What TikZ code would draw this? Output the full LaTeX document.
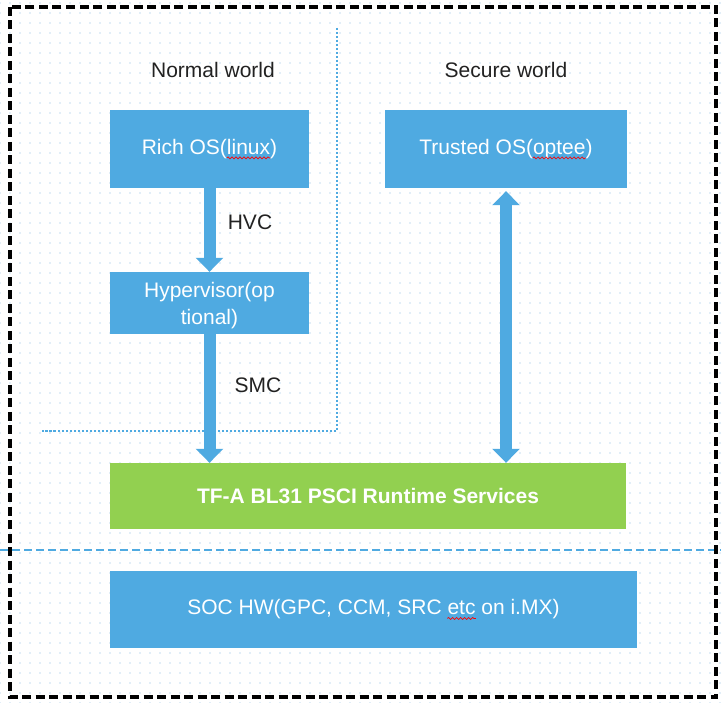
\documentclass[tikz,border=0pt]{standalone}
\usepackage{fontspec}
\setmainfont{Liberation Sans}
\usetikzlibrary{arrows.meta,positioning,patterns.meta,decorations.pathmorphing}

\definecolor{boxblue}{RGB}{79,170,225}
\definecolor{boxgreen}{RGB}{146,208,80}
\definecolor{dotblue}{RGB}{196,222,242}
\definecolor{labelgray}{RGB}{34,34,34}

\newcommand\spellerr[1]{\tikz[baseline=(w.base)]{\node[inner sep=0pt, minimum width=0pt, minimum height=0pt,
                fill=none, draw=none, text=white] (w) {#1};
        \draw[overlay, red, line width=0.7pt, decorate, decoration={snake, amplitude=1pt, segment length=4pt}]
                ([yshift=-3.5pt]w.base west) -- ([yshift=-3.5pt]w.base east);}}

\begin{document}
\begin{tikzpicture}[x=1pt, y=-1pt,
        every node/.style={font=\fontsize{21}{27}\selectfont},
        layer/.style={fill=boxblue, text=white, inner sep=0pt, align=center},
        world/.style={text=labelgray, inner sep=1pt},
        call/.style={draw=boxblue, line width=12pt, -{Triangle[width=27pt, length=14pt]}},
        twoway/.style={draw=boxblue, line width=12pt,
                {Triangle[width=27pt, length=14pt]}-{Triangle[width=27pt, length=14pt]}}]
        \useasboundingbox (0, 0) rectangle (721, 703);
        \fill[white] (0, 0) rectangle (721, 703);
        \fill[pattern={Dots[distance=10pt, radius=0.9pt]}, pattern color=dotblue] (0, 0) rectangle (721, 703);
        \draw[boxblue, line width=1.2pt, dash pattern=on 2.5pt off 1.5pt] (337, 28) -- (337, 431) -- (42, 431);
        \draw[boxblue, line width=2.4pt, dash pattern=on 8pt off 4pt] (0, 550) -- (721, 550);
        \draw[line width=3.2pt, dash pattern=on 9pt off 4.5pt] (10, 7) rectangle (716, 697);

        \node[world] (normal) at (213, 70) {Normal world};
        \node[world] (secure) at (506, 70) {Secure world};
        \node[layer, minimum width=199pt, minimum height=78pt] (rich) at (209.5, 149) {Rich OS(\spellerr{linux})};
        \node[layer, minimum width=242pt, minimum height=78pt] (trusted) at (506, 149) {Trusted OS(\spellerr{optee})};
        \node[layer, minimum width=199pt, minimum height=62pt] (hyp) at (209.5, 303) {\rule{0pt}{21pt}Hypervisor(op\\tional)};
        \node[layer, fill=boxgreen, minimum width=516pt, minimum height=66pt] (tfa) at (368, 496)
                {\bfseries TF-A BL31 PSCI Runtime Services};
        \node[layer, minimum width=527pt, minimum height=77pt] (soc) at (373.5, 609.5)
                {SOC HW(GPC, CCM, SRC \spellerr{etc} on i.MX)};

        \draw[call] (rich) -- (hyp);
        \draw[call] (hyp.south) -- (hyp.south |- tfa.north);
        \draw[twoway] ([yshift=-3pt]trusted.south) -- (trusted.south |- tfa.north);
        \node[world] (hvc) at (250, 222) {HVC};
        \node[world] (smc) at (258, 385) {SMC};
\end{tikzpicture}
\end{document}
